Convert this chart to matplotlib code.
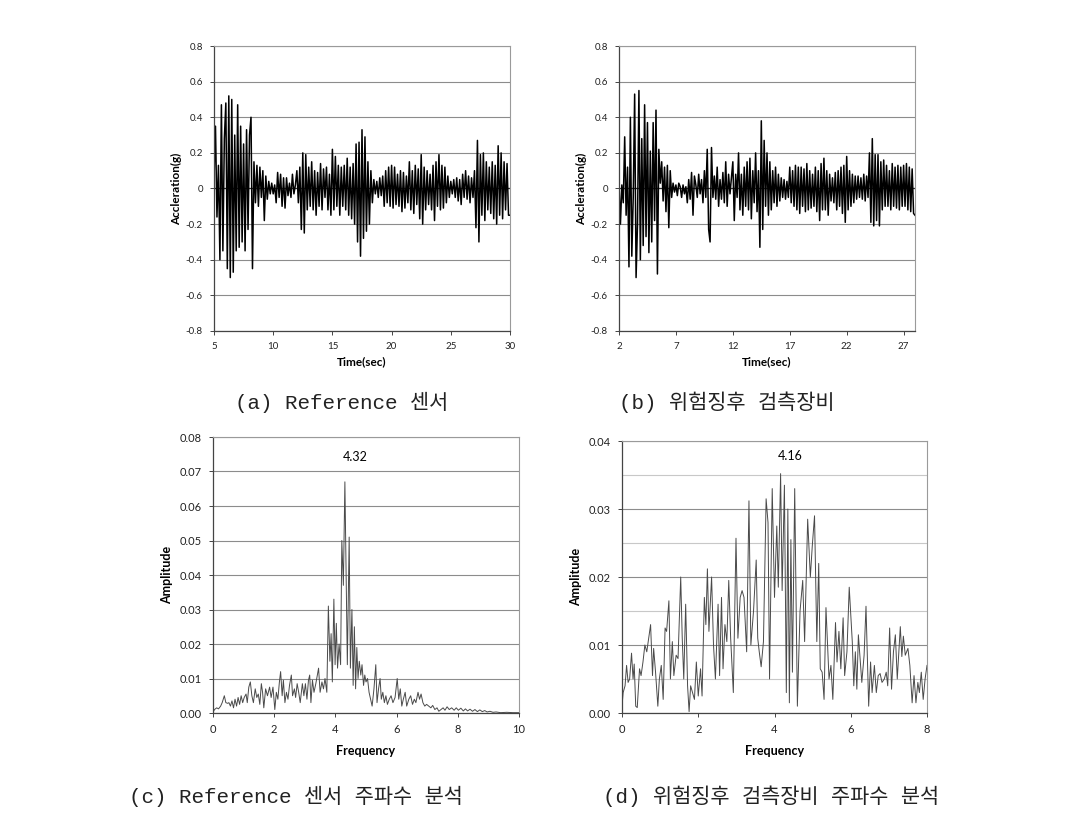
import numpy as np
import matplotlib
matplotlib.use("Agg")
import matplotlib.pyplot as plt
from matplotlib.ticker import FuncFormatter, MultipleLocator

# ---------------- data ----------------
t0_a, dt_a = 5.0, 0.125
acc_a = [
    0.05, 0.35, -0.16, 0.13, -0.40, 0.47, -0.35, 0.28,
    0.48, -0.45, 0.52, -0.50, 0.50, -0.47, 0.30, -0.35,
    0.47, -0.33, 0.35, -0.30, 0.25, -0.35, 0.33, -0.23,
    0.30, 0.40, -0.45, 0.15, -0.08, 0.13, -0.10, 0.12,
    -0.05, 0.10, -0.18, 0.07, -0.06, 0.04, -0.03, 0.03,
    -0.03, 0.02, -0.08, 0.09, -0.05, 0.08, -0.10, 0.06,
    -0.11, 0.06, -0.04, 0.03, -0.05, 0.08, -0.03, 0.02,
    0.10, -0.08, 0.12, -0.23, 0.20, -0.25, 0.19, -0.12,
    0.12, -0.10, 0.15, -0.12, 0.10, -0.15, 0.09, -0.10,
    0.14, -0.12, 0.11, -0.05, 0.12, -0.12, 0.08, -0.15,
    0.22, -0.12, 0.18, -0.10, 0.13, -0.15, 0.12, -0.10,
    0.13, -0.12, 0.17, -0.15, 0.12, -0.17, 0.14, -0.20,
    0.25, -0.30, 0.26, -0.38, 0.33, -0.28, 0.29, -0.24,
    0.15, -0.20, 0.10, -0.08, 0.05, -0.03, 0.04, -0.05,
    0.06, -0.04, 0.07, -0.10, 0.10, -0.08, 0.12, -0.10,
    0.13, -0.11, 0.12, -0.09, 0.08, -0.10, 0.10, -0.13,
    0.09, -0.11, 0.07, -0.08, 0.15, -0.12, 0.10, -0.14,
    0.13, -0.09, 0.11, -0.17, 0.19, -0.20, 0.12, -0.12,
    0.10, -0.09, 0.08, -0.12, 0.13, -0.18, 0.15, -0.10,
    0.19, -0.12, 0.13, -0.11, 0.12, -0.08, 0.07, -0.05,
    0.04, -0.03, 0.05, -0.05, 0.06, -0.07, 0.05, -0.09,
    0.08, -0.05, 0.10, -0.06, 0.07, -0.08, 0.06, -0.05,
    0.10, -0.22, 0.27, -0.30, 0.19, -0.15, 0.20, -0.18,
    0.15, -0.12, 0.12, -0.14, 0.15, -0.17, 0.13, -0.20,
    0.24, -0.15, 0.20, -0.17, 0.15, -0.12, 0.14, -0.15,
    -0.15,
]

t0_b, dt_b = 2.0, 0.125
acc_b = [
    0.03, -0.20, 0.02, -0.08, 0.29, -0.15, 0.12, -0.44,
    0.40, -0.38, -0.05, 0.53, -0.50, -0.20, 0.55, -0.40,
    0.28, -0.32, 0.47, -0.27, 0.37, -0.36, 0.21, -0.30,
    0.37, -0.18, 0.44, -0.48, 0.22, 0.03, 0.15, -0.07,
    0.12, -0.13, 0.13, -0.22, 0.10, -0.05, 0.03, -0.02,
    0.02, -0.04, 0.03, 0.01, -0.05, 0.02, -0.03, 0.01,
    -0.08, 0.05, -0.06, 0.09, -0.15, 0.07, 0.02, -0.05,
    0.08, -0.03, 0.05, -0.08, 0.10, -0.05, 0.22, -0.23,
    -0.30, 0.23, -0.05, 0.07, -0.06, 0.12, -0.10, 0.05,
    -0.06, 0.09, -0.08, 0.15, -0.10, 0.08, -0.03, 0.06,
    0.15, -0.18, 0.08, -0.05, 0.20, -0.12, 0.08, -0.15,
    0.12, -0.10, 0.15, -0.12, 0.17, -0.17, 0.10, -0.08,
    0.20, -0.13, 0.10, -0.33, 0.38, -0.23, 0.27, -0.10,
    0.20, -0.15, 0.15, -0.12, 0.10, -0.08, 0.12, -0.10,
    0.08, -0.07, 0.06, -0.05, 0.05, -0.06, 0.04, -0.05,
    0.12, -0.08, 0.10, -0.10, 0.13, -0.12, 0.12, -0.14,
    0.12, -0.10, 0.11, -0.13, 0.14, -0.12, 0.10, -0.11,
    0.08, -0.10, 0.12, -0.13, 0.10, -0.18, 0.14, -0.12,
    0.17, -0.12, 0.10, -0.15, 0.08, -0.07, 0.06, -0.08,
    0.09, -0.12, 0.10, -0.10, 0.12, -0.14, 0.13, -0.19,
    0.18, -0.12, 0.10, -0.10, 0.08, -0.08, 0.07, -0.06,
    0.07, -0.05, 0.06, -0.06, 0.08, -0.07, 0.07, -0.05,
    0.20, -0.19, 0.28, -0.21, 0.19, -0.18, 0.19, -0.21,
    0.15, -0.12, 0.16, -0.10, 0.13, -0.10, 0.10, -0.12,
    0.14, -0.10, 0.12, -0.11, 0.13, -0.12, 0.12, -0.10,
    0.13, -0.10, 0.14, -0.12, 0.12, -0.13, 0.11, -0.14,
    -0.15,
]

freq_c = [0.00, 0.05, 0.12, 0.18, 0.25, 0.30, 0.37, 0.42, 0.48, 0.52, 0.57, 0.62, 0.67, 0.72, 0.77, 0.82, 0.87, 0.92, 0.97,
          1.02, 1.08, 1.12, 1.17, 1.22, 1.27, 1.32, 1.38, 1.43, 1.48, 1.53, 1.58, 1.62, 1.66, 1.72, 1.78, 1.85, 1.90, 1.96,
          2.02, 2.07, 2.12, 2.17, 2.21, 2.26, 2.30, 2.35, 2.40, 2.45, 2.50, 2.56, 2.60, 2.66, 2.70, 2.75, 2.80, 2.85, 2.92, 2.97,
          3.02, 3.07, 3.12, 3.16, 3.20, 3.25, 3.30, 3.36, 3.45, 3.50, 3.56, 3.61, 3.66, 3.72, 3.77, 3.82, 3.86, 3.90, 3.95, 3.99,
          4.03, 4.07, 4.12, 4.17, 4.21, 4.26, 4.31, 4.36, 4.39, 4.45, 4.49, 4.54, 4.58, 4.62, 4.66, 4.70, 4.74, 4.78, 4.83, 4.87, 4.92, 4.96,
          5.00, 5.05, 5.10, 5.15, 5.20, 5.26, 5.32, 5.36, 5.41, 5.46, 5.50, 5.55, 5.60, 5.65, 5.70, 5.76, 5.82, 5.88, 5.95,
          6.02, 6.07, 6.12, 6.17, 6.22, 6.28, 6.33, 6.40, 6.46, 6.52, 6.58, 6.63, 6.70, 6.75, 6.80, 6.86, 6.92, 6.98,
          7.05, 7.12, 7.18, 7.25, 7.32, 7.38, 7.45, 7.52, 7.58, 7.65, 7.72, 7.80, 7.88, 7.95,
          8.02, 8.10, 8.18, 8.25, 8.32, 8.40, 8.48, 8.56, 8.64, 8.72, 8.80, 8.88, 8.96,
          9.05, 9.15, 9.25, 9.40, 9.60, 9.80, 10.00]
amp_c = [0.0002, 0.001, 0.0015, 0.0012, 0.002, 0.003, 0.005, 0.003, 0.0028, 0.003, 0.002, 0.0035, 0.0015, 0.004, 0.002, 0.0045, 0.0025, 0.005, 0.003,
         0.0045, 0.0055, 0.003, 0.0075, 0.009, 0.005, 0.003, 0.007, 0.0045, 0.0055, 0.0025, 0.0085, 0.006, 0.0015, 0.007, 0.005, 0.0075, 0.0045, 0.0075,
         0.001, 0.006, 0.004, 0.009, 0.012, 0.005, 0.0095, 0.003, 0.006, 0.004, 0.008, 0.011, 0.005, 0.007, 0.0045, 0.0085, 0.006, 0.003, 0.0085, 0.005,
         0.0085, 0.004, 0.0095, 0.011, 0.003, 0.0095, 0.006, 0.0085, 0.013, 0.006, 0.009, 0.007, 0.010, 0.006, 0.031, 0.015, 0.023, 0.009, 0.033, 0.014,
         0.026, 0.013, 0.020, 0.014, 0.050, 0.037, 0.067, 0.035, 0.014, 0.051, 0.013, 0.030, 0.008, 0.025, 0.007, 0.019, 0.010, 0.015, 0.011, 0.014, 0.008, 0.011,
         0.009, 0.010, 0.006, 0.004, 0.002, 0.007, 0.014, 0.003, 0.007, 0.010, 0.004, 0.006, 0.003, 0.005, 0.0025, 0.004, 0.005, 0.003, 0.0045,
         0.010, 0.004, 0.007, 0.002, 0.004, 0.006, 0.002, 0.004, 0.005, 0.0025, 0.004, 0.003, 0.006, 0.004, 0.0055, 0.003, 0.002, 0.0025,
         0.002, 0.0015, 0.0022, 0.001, 0.0015, 0.0005, 0.001, 0.0015, 0.0008, 0.0018, 0.001, 0.0015, 0.0008, 0.0015,
         0.0008, 0.0014, 0.0006, 0.0012, 0.0006, 0.0011, 0.0005, 0.001, 0.0004, 0.0009, 0.0004, 0.0007, 0.0003,
         0.0005, 0.0002, 0.0003, 0.0001, 0.0002, 0.0001, 0.0001]

freq_d = [0.00, 0.03, 0.08, 0.12, 0.16, 0.20, 0.25, 0.29, 0.32, 0.36, 0.40, 0.46, 0.50, 0.55, 0.60, 0.65, 0.75, 0.80, 0.83, 0.88, 0.94, 0.98,
          1.03, 1.08, 1.13, 1.17, 1.23, 1.27, 1.32, 1.36, 1.42, 1.47, 1.54, 1.58, 1.62, 1.67, 1.72, 1.76, 1.80, 1.85, 1.90, 1.95,
          2.00, 2.06, 2.10, 2.16, 2.20, 2.24, 2.28, 2.35, 2.40, 2.45, 2.52, 2.56, 2.61, 2.65, 2.70, 2.75, 2.80, 2.85, 2.92, 2.99,
          3.04, 3.10, 3.15, 3.20, 3.27, 3.33, 3.38, 3.45, 3.52, 3.56, 3.60, 3.65, 3.71, 3.78, 3.83, 3.87, 3.94,
          4.00, 4.06, 4.10, 4.16, 4.20, 4.26, 4.31, 4.35, 4.39, 4.43, 4.47, 4.53, 4.60, 4.67, 4.74, 4.79, 4.87, 4.94, 4.99,
          5.05, 5.11, 5.16, 5.20, 5.25, 5.30, 5.35, 5.43, 5.48, 5.53, 5.60, 5.64, 5.69, 5.74, 5.80, 5.84, 5.90, 5.96,
          6.04, 6.08, 6.12, 6.16, 6.20, 6.29, 6.35, 6.40, 6.47, 6.52, 6.56, 6.62, 6.67, 6.72, 6.77, 6.82, 6.88, 6.93, 6.97,
          7.02, 7.07, 7.12, 7.17, 7.22, 7.30, 7.34, 7.38, 7.43, 7.50, 7.55, 7.61, 7.66, 7.71, 7.76, 7.80, 7.85, 7.90, 7.95, 8.00]
amp_d = [0.001, 0.003, 0.004, 0.007, 0.0045, 0.005, 0.0088, 0.005, 0.0072, 0.001, 0.0008, 0.0065, 0.0055, 0.0075, 0.0100, 0.009, 0.013, 0.0055, 0.0095, 0.006, 0.001, 0.005,
         0.007, 0.002, 0.0125, 0.012, 0.0165, 0.005, 0.0105, 0.0055, 0.0085, 0.008, 0.020, 0.011, 0.005, 0.016, 0.004, 0.0002, 0.004, 0.003, 0.002, 0.0075,
         0.0025, 0.0065, 0.0025, 0.017, 0.013, 0.0212, 0.012, 0.020, 0.010, 0.005, 0.016, 0.0055, 0.017, 0.0065, 0.013, 0.0105, 0.0195, 0.011, 0.003, 0.0257,
         0.011, 0.017, 0.018, 0.017, 0.009, 0.0312, 0.010, 0.015, 0.0225, 0.011, 0.009, 0.0068, 0.0105, 0.0315, 0.028, 0.005, 0.033,
         0.017, 0.0275, 0.0185, 0.0352, 0.018, 0.0335, 0.003, 0.030, 0.0015, 0.0255, 0.006, 0.033, 0.001, 0.015, 0.0195, 0.0105, 0.0285, 0.020, 0.0245,
         0.029, 0.0105, 0.022, 0.0065, 0.006, 0.002, 0.0155, 0.005, 0.007, 0.002, 0.0133, 0.0075, 0.012, 0.0065, 0.014, 0.0055, 0.009, 0.0185,
         0.0105, 0.004, 0.009, 0.0035, 0.0115, 0.0045, 0.0085, 0.0157, 0.001, 0.0075, 0.003, 0.007, 0.003, 0.0055, 0.0058, 0.0045, 0.005, 0.006, 0.004,
         0.0125, 0.0035, 0.009, 0.0115, 0.005, 0.0127, 0.0083, 0.0113, 0.0085, 0.0095, 0.007, 0.0015, 0.0055, 0.0015, 0.0045, 0.003, 0.006, 0.002, 0.005, 0.007]

peak_c = (4.32, "4.32")
peak_d = (4.16, "4.16")

captions = ["(a) Reference 센서", "(b) 위험징후 검측장비",
            "(c) Reference 센서 주파수 분석", "(d) 위험징후 검측장비 주파수 분석"]

# ---------------- figure ----------------
W, H = 1074, 813
fig = plt.figure(figsize=(W / 100, H / 100), dpi=100)


def ax_px(l, t, r, b):
    return fig.add_axes([l / W, 1 - b / H, (r - l) / W, (b - t) / H])


LAT = ["Lato", "DejaVu Sans"]


def style(ax, tick_size, pad):
    for s in ("left", "bottom"):
        ax.spines[s].set_color("#444444")
        ax.spines[s].set_linewidth(0.9)
    for s in ("top", "right"):
        ax.spines[s].set_color("#9a9a9a")
        ax.spines[s].set_linewidth(0.8)
    ax.tick_params(direction="out", length=3, width=0.7, color="#444444",
                   labelsize=tick_size, pad=pad, labelcolor="#222222")
    for lab in ax.get_xticklabels() + ax.get_yticklabels():
        lab.set_family(LAT)
    ax.set_axisbelow(True)


def g_fmt(v, pos):
    return "%g" % round(v, 3)


# (a)
axa = ax_px(214, 46, 510, 331)
ta = t0_a + dt_a * np.arange(len(acc_a))
axa.plot(ta, acc_a, color="black", lw=1.1)
axa.set_xlim(5, 30)
axa.set_ylim(-0.8, 0.8)
axa.xaxis.set_major_locator(MultipleLocator(5))
axa.yaxis.set_major_locator(MultipleLocator(0.2))
axa.yaxis.set_major_formatter(FuncFormatter(g_fmt))
axa.grid(axis="y", color="#8c8c8c", lw=0.8)
axa.axhline(0, color="#333333", lw=0.9, zorder=1)
style(axa, 7, 5)
axa.set_xlabel("Time(sec)", fontsize=8.5, fontweight="bold", family=LAT, labelpad=4)
axa.set_ylabel("Accleration(g)", fontsize=8.5, fontweight="bold", family=LAT, labelpad=3)

# (b)
axb = ax_px(619, 46, 915, 331)
tb = t0_b + dt_b * np.arange(len(acc_b))
axb.plot(tb, acc_b, color="black", lw=1.1)
axb.set_xlim(2, 28)
axb.set_ylim(-0.8, 0.8)
axb.set_xticks([2, 7, 12, 17, 22, 27])
axb.yaxis.set_major_locator(MultipleLocator(0.2))
axb.yaxis.set_major_formatter(FuncFormatter(g_fmt))
axb.grid(axis="y", color="#8c8c8c", lw=0.8)
axb.axhline(0, color="#333333", lw=0.9, zorder=1)
style(axb, 7, 5)
axb.set_xlabel("Time(sec)", fontsize=8.5, fontweight="bold", family=LAT, labelpad=4)
axb.set_ylabel("Accleration(g)", fontsize=8.5, fontweight="bold", family=LAT, labelpad=3)

# (c)
axc = ax_px(213, 437, 519, 713)
axc.plot(freq_c, amp_c, color="#4a4a4a", lw=0.7)
axc.set_xlim(0, 10)
axc.set_ylim(0, 0.08)
axc.xaxis.set_major_locator(MultipleLocator(2))
axc.yaxis.set_major_locator(MultipleLocator(0.01))
axc.yaxis.set_major_formatter(FuncFormatter(lambda v, p: "%.2f" % v))
axc.grid(axis="y", color="#8c8c8c", lw=0.8)
style(axc, 8, 5)
axc.set_xlabel("Frequency", fontsize=9, fontweight="bold", family=LAT, labelpad=7)
axc.set_ylabel("Amplitude", fontsize=9, fontweight="bold", family=LAT, labelpad=5)
axc.text(4.64, 0.0742, peak_c[1], fontsize=9, family=LAT, ha="center", va="center")

# (d)
axd = ax_px(622, 441, 927, 713)
axd.plot(freq_d, amp_d, color="#4a4a4a", lw=0.7)
axd.set_xlim(0, 8)
axd.set_ylim(0, 0.04)
axd.xaxis.set_major_locator(MultipleLocator(2))
axd.yaxis.set_major_locator(MultipleLocator(0.01))
axd.yaxis.set_minor_locator(MultipleLocator(0.005))
axd.yaxis.set_major_formatter(FuncFormatter(lambda v, p: "%.2f" % v))
axd.grid(axis="y", which="major", color="#8c8c8c", lw=0.8)
axd.grid(axis="y", which="minor", color="#c8c8c8", lw=0.8)
axd.tick_params(axis="y", which="minor", length=0)
style(axd, 8, 5)
axd.set_xlabel("Frequency", fontsize=9, fontweight="bold", family=LAT, labelpad=7)
axd.set_ylabel("Amplitude", fontsize=9, fontweight="bold", family=LAT, labelpad=5)
axd.text(4.41, 0.0378, peak_d[1], fontsize=9, family=LAT, ha="center", va="center")

# captions
CAP = ["Liberation Mono", "Noto Sans CJK KR"]
cap_pos = [(342, 402), (727, 402), (296, 796), (771, 796)]
for (x, y), txt in zip(cap_pos, captions):
    fig.text(x / W, 1 - y / H, txt, fontsize=15, family=CAP, ha="center", va="center",
             color="#222222")

fig.savefig("out.png", dpi=100)
